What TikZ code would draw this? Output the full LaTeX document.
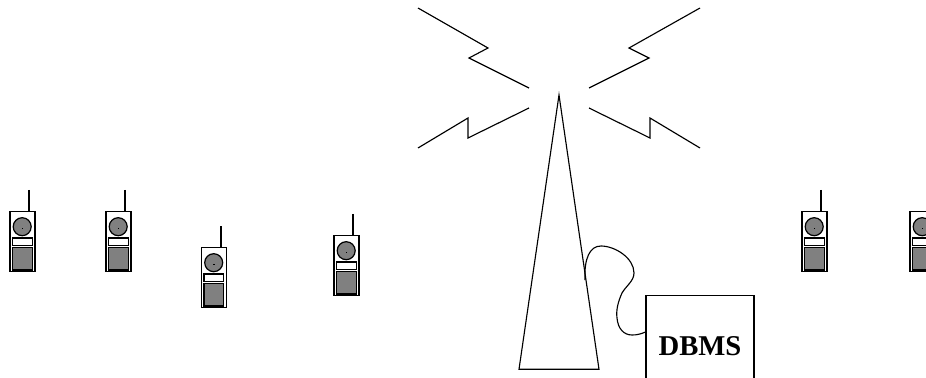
\documentclass[tikz,border=0pt]{standalone}
\usepackage{fontspec}
\setmainfont{Liberation Serif}
\definecolor{phonegray}{gray}{0.5}
\tikzset{
  wire/.style={draw=black,line width=0.85pt,line join=miter},
  dbmsbox/.style={draw=black,line width=0.85pt,fill=white,inner sep=0pt,minimum width=81pt,minimum height=75.2pt,font=\bfseries\fontsize{21.5}{24}\selectfont},
  pics/phone/.style={code={
    \draw[line width=1.6pt] (29.2,190) -- (29.2,211.3);
    \draw[line width=0.9pt,fill=white] (10,211.3) rectangle (35,271.7);
    \draw[line width=0.9pt,fill=phonegray] (22.2,226.7) circle[radius=9];
    \fill[black] (21.5,227.6) rectangle (23,228.8);
    \draw[line width=0.9pt,fill=white] (12.5,238) rectangle (32.2,245.7);
    \draw[line width=0.9pt,fill=phonegray] (12.5,247.7) rectangle (32.2,270);
  }}
}
\begin{document}
\begin{tikzpicture}[x=0.75pt,y=-0.75pt]
\useasboundingbox (0,0) rectangle (926,378);
\clip (0,0) rectangle (926,378);
\pic at (0,0) {phone};
\pic at (96,0) {phone};
\pic at (191.5,36) {phone};
\pic at (324,24) {phone};
\pic at (792,0) {phone};
\pic at (900,0) {phone};
% radio signals
\draw[wire] (418,8) -- (488,48) -- (469,58) -- (529,88);
\draw[wire] (700,8) -- (629,48) -- (649,58) -- (589,88);
\draw[wire] (418,148) -- (468,118) -- (468,138) -- (529,108);
\draw[wire] (700,148) -- (650,118) -- (650,138) -- (589,108);
% tower
\draw[wire] (559,95) -- (519,369.3) -- (599,369.3) -- cycle;
\coordinate (towerport) at (585,280);
% database
\node[dbmsbox] (dbms) at (700,346) {DBMS};
\coordinate (dbmsport) at (dbms.west |- 0,332);
\draw[wire] (towerport) .. controls (584,258) and (590,246) .. (601,246)
  .. controls (615,246) and (634,258) .. (634,273)
  .. controls (634,281) and (626,286) .. (622,293)
  .. controls (618,302) and (616,310) .. (617,318)
  .. controls (618,329) and (624,335) .. (632,335)
  .. controls (637,335) and (641,334) .. (dbmsport);
\end{tikzpicture}
\end{document}
